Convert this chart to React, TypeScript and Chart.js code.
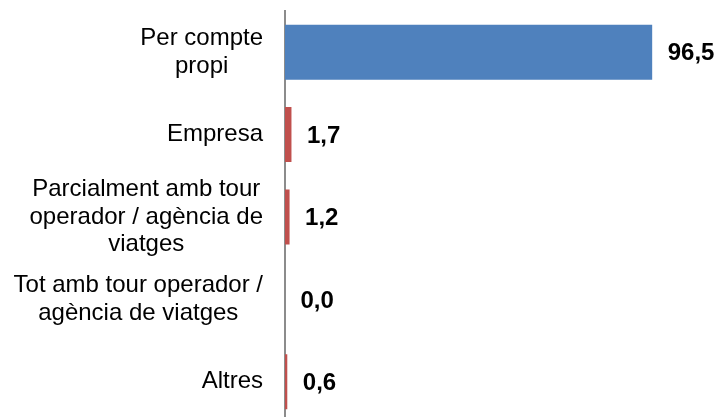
import React, { useEffect, useRef } from "react";
import { Chart, registerables } from "chart.js";

Chart.register(...registerables);

const categories: string[][] = [
  ["Per compte", "propi"],
  ["Empresa"],
  ["Parcialment amb tour", "operador / agència de", "viatges"],
  ["Tot amb tour operador /", "agència de viatges"],
  ["Altres"],
];
const values: number[] = [96.5, 1.7, 1.2, 0.0, 0.6];
const xMin = 0;
const xMax = 100;

const FONT = '"Liberation Sans", Arial, Helvetica, sans-serif';
const BLUE = "#4F81BD";
const RED = "#C0504D";

export default function App() {
  const ref = useRef<HTMLCanvasElement>(null);

  useEffect(() => {
    if (!ref.current) return;

    const labelPlugin = {
      id: "customLabels",
      afterDatasetsDraw(chart: any) {
        const ctx = chart.ctx as CanvasRenderingContext2D;
        const meta = chart.getDatasetMeta(0);
        const yScale = chart.scales.y;
        ctx.save();
        ctx.fillStyle = "#000";
        ctx.textBaseline = "middle";

        // value labels
        ctx.font = `bold 24px ${FONT}`;
        ctx.textAlign = "left";
        meta.data.forEach((bar: any, i: number) => {
          const txt = values[i].toFixed(1).replace(".", ",");
          ctx.fillText(txt, bar.x + 15.5, bar.y + 1.5);
        });

        // category labels: block right-aligned, lines centred in block
        ctx.font = `24px ${FONT}`;
        ctx.textAlign = "center";
        const right = chart.chartArea.left - 22;
        const lh = 27.6;
        categories.forEach((lines, i) => {
          const cy = yScale.getPixelForValue(i);
          const w = Math.max(...lines.map((l) => ctx.measureText(l).width));
          const cx = right - w / 2;
          lines.forEach((l, j) => {
            ctx.fillText(l, cx, cy + (j - (lines.length - 1) / 2) * lh);
          });
        });
        ctx.restore();
      },
    };

    const chart = new Chart(ref.current, {
      type: "bar",
      data: {
        labels: categories.map((c) => c.join(" ")),
        datasets: [
          {
            data: values,
            backgroundColor: values.map((_, i) => (i === 0 ? BLUE : RED)),
            borderWidth: 0,
            categoryPercentage: 1,
            barPercentage: 0.668,
          },
        ],
      },
      options: {
        indexAxis: "y",
        animation: false,
        responsive: false,
        devicePixelRatio: 1,
        layout: { padding: { top: 11, bottom: 7, left: 0, right: 53.5 } },
        plugins: {
          legend: { display: false },
          tooltip: { enabled: false },
          title: { display: false },
        },
        scales: {
          x: {
            type: "linear",
            min: xMin,
            max: xMax,
            display: false,
          },
          y: {
            type: "category",
            display: true,
            grid: { display: false, drawTicks: false },
            ticks: { display: false },
            border: { display: true, color: "#8c8c8c", width: 2 },
            afterFit: (s: any) => {
              s.width = 285;
            },
          },
        },
      },
      plugins: [labelPlugin],
    });

    return () => chart.destroy();
  }, []);

  return (
    <div
      style={{
        position: "fixed",
        top: 0,
        left: 0,
        width: 719,
        height: 417,
        overflow: "hidden",
        background: "#fff",
      }}
    >
      <canvas ref={ref} width={719} height={430} style={{ display: "block" }} />
    </div>
  );
}
